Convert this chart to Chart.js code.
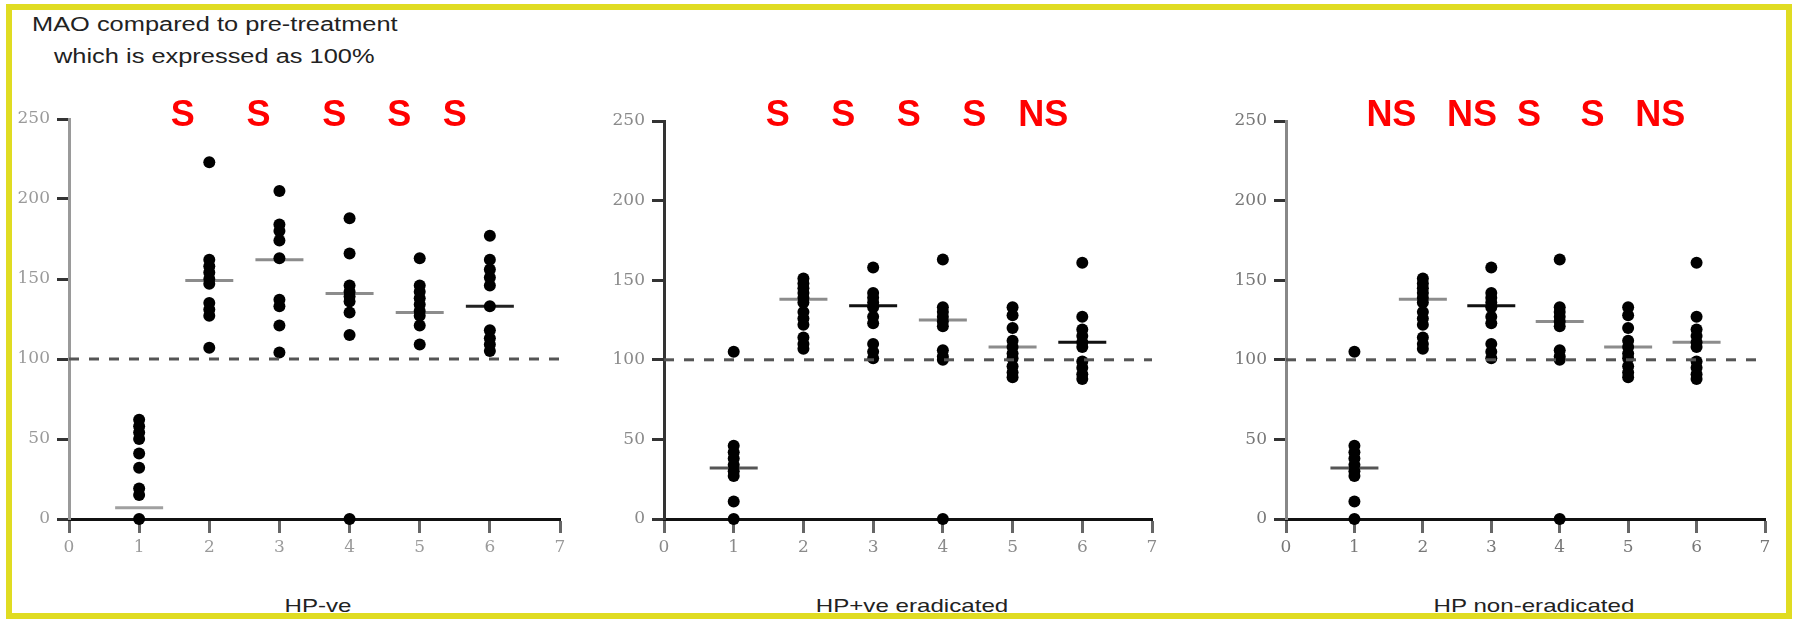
<!DOCTYPE html>
<html>
<head>
<meta charset="utf-8">
<script src="https://cdn.jsdelivr.net/npm/chart.js@4.4.1/dist/chart.umd.min.js"></script>
<style>
  html, body { margin: 0; padding: 0; background: #fff; overflow: hidden; width: 1793px; height: 619px; }
  #frame { position: absolute; left: 6px; top: 4px; width: 1774px; height: 603px; border: 6px solid #e0dc22; }
  .txt { position: absolute; font-family: "Liberation Sans", Arial, sans-serif; color: #222; white-space: nowrap; }
  .head { left: 32px; font-size: 20px; transform: scaleX(1.27); transform-origin: left center; }
  .sub { top: 606px; font-size: 19px; transform: translate(-50%, -50%) scaleX(1.27); }
  canvas { position: absolute; }
</style>
</head>
<body>
<div id="frame"></div>
<div class="txt head" style="top:13px">MAO compared to pre-treatment</div>
<div class="txt head" style="top:45px;left:54px">which is expressed as 100%</div>

<script>
// x = visit number, y = MAO as % of pre-treatment
const visits = [1, 2, 3, 4, 5, 6];
const xTicks = [0, 1, 2, 3, 4, 5, 6, 7];
const yTicks = [0, 50, 100, 150, 200, 250];
const reference = 100;

// HP-ve
const hpNegValues = [
  [62, 58, 54, 50, 41, 32, 19, 15, 0],
  [223, 162, 158, 154, 150, 147, 135, 131, 127, 107],
  [205, 184, 180, 174, 163, 137, 133, 121, 104],
  [188, 166, 146, 142, 139, 136, 129, 115, 0],
  [163, 146, 142, 138, 134, 130, 127, 121, 109],
  [177, 162, 156, 151, 146, 133, 118, 113, 109, 105]
];
const hpNegMedians = [7, 149, 162, 141, 129, 133];
const hpNegSig = ['S', 'S', 'S', 'S', 'S'];

// HP+ve eradicated
const eradValues = [
  [105, 46, 42, 38, 34, 30, 27, 11, 0],
  [151, 148, 145, 142, 139, 136, 130, 126, 122, 114, 110, 107],
  [158, 142, 139, 136, 133, 127, 123, 110, 105, 101],
  [163, 133, 130, 127, 124, 121, 106, 102, 100, 0],
  [133, 128, 120, 112, 108, 104, 101, 96, 92, 89],
  [161, 127, 119, 115, 111, 108, 99, 95, 91, 88]
];
const eradMedians = [32, 138, 134, 125, 108, 111];
const eradSig = ['S', 'S', 'S', 'S', 'NS'];

// HP non-eradicated
const nonEradValues = [
  [105, 46, 42, 38, 34, 30, 27, 11, 0],
  [151, 148, 145, 142, 139, 136, 130, 126, 122, 114, 110, 107],
  [158, 142, 139, 136, 133, 127, 123, 110, 105, 101],
  [163, 133, 130, 127, 124, 121, 106, 102, 100, 0],
  [133, 128, 120, 112, 108, 104, 101, 96, 92, 89],
  [161, 127, 119, 115, 111, 108, 99, 95, 91, 88]
];
const nonEradMedians = [32, 138, 134, 124, 108, 111];
const nonEradSig = ['NS', 'NS', 'S', 'S', 'NS'];

// layout of the three panels (pixels) and where the S / NS marks sit
const panels = [
  { title: 'HP-ve', values: hpNegValues, medians: hpNegMedians, sig: hpNegSig,
    sigAt: [1.62, 2.70, 3.78, 4.71, 5.50],
    left: 9, top: 92, width: 578, height: 477, padRight: 20,
    axisColor: '#9a9a9a', labelColor: '#9a9a9a',
    medianColors: ['#a0a0a0', '#8c8c8c', '#8c8c8c', '#8c8c8c', '#8c8c8c', '#222'] },
  { title: 'HP+ve eradicated', values: eradValues, medians: eradMedians, sig: eradSig,
    sigAt: [1.63, 2.57, 3.51, 4.45, 5.44],
    left: 604, top: 94, width: 575, height: 475, padRight: 20,
    axisColor: '#333', labelColor: '#8a8a8a',
    medianColors: ['#555', '#8c8c8c', '#111', '#8c8c8c', '#8c8c8c', '#111'] },
  { title: 'HP non-eradicated', values: nonEradValues, medians: nonEradMedians, sig: nonEradSig,
    sigAt: [1.54, 2.72, 3.55, 4.48, 5.47],
    left: 1226, top: 94, width: 566, height: 475, padRight: 10,
    axisColor: '#888', labelColor: '#777',
    medianColors: ['#555', '#8c8c8c', '#111', '#8c8c8c', '#8c8c8c', '#8c8c8c'] }
];

const sigPlugin = {
  id: 'sig',
  afterDatasetsDraw(chart, args, opts) {
    const { ctx, scales: { x } } = chart;
    ctx.save();
    ctx.fillStyle = '#ff0000';
    ctx.font = 'bold 36px "Liberation Sans", Arial, sans-serif';
    ctx.textAlign = 'center';
    ctx.textBaseline = 'alphabetic';
    opts.labels.forEach((t, i) => ctx.fillText(t, x.getPixelForValue(opts.at[i]), opts.y + 13));
    ctx.restore();
  }
};

const tickFont = { family: '"DejaVu Serif", serif', size: 17 };

panels.forEach(p => {
  const canvas = document.createElement('canvas');
  canvas.width = p.width;
  canvas.height = p.height;
  canvas.style.left = p.left + 'px';
  canvas.style.top = p.top + 'px';
  canvas.style.width = p.width + 'px';
  canvas.style.height = p.height + 'px';
  document.body.appendChild(canvas);

  const dots = visits.flatMap((v, i) => p.values[i].map(y => ({ x: v, y })));
  const meds = visits.map((v, i) => ({ x: v, y: p.medians[i] }));

  new Chart(canvas, {
    type: 'scatter',
    data: {
      datasets: [
        {
          type: 'line',
          data: [{ x: xTicks[0], y: reference }, { x: xTicks[xTicks.length - 1], y: reference }],
          borderColor: '#555', borderWidth: 3, borderDash: [10, 10], pointRadius: 0
        },
        { data: dots, pointBackgroundColor: '#000', pointBorderWidth: 0, pointRadius: 6, clip: false },
        { data: meds, pointStyle: 'line', pointRadius: 24, pointBorderWidth: 3,
          pointBorderColor: p.medianColors, clip: false }
      ]
    },
    options: {
      responsive: false,
      animation: false,
      events: [],
      layout: { padding: { top: 20, right: p.padRight, bottom: 0, left: 0 } },
      plugins: {
        legend: { display: false },
        tooltip: { enabled: false },
        sig: { labels: p.sig, at: p.sigAt, y: 113 - p.top }
      },
      scales: {
        x: {
          type: 'linear', min: 0, max: 7,
          afterBuildTicks: s => { s.ticks = xTicks.map(v => ({ value: v })); },
          ticks: { color: p.labelColor, font: tickFont, padding: 4 },
          grid: { drawOnChartArea: false, tickLength: 14, tickWidth: 3, tickColor: '#666' },
          border: { color: '#111', width: 3 },
          afterFit: s => { s.height = 50; }
        },
        y: {
          min: 0, max: 250,
          afterBuildTicks: s => { s.ticks = yTicks.map(v => ({ value: v })); },
          ticks: { color: p.labelColor, font: tickFont, padding: 7 },
          grid: { drawOnChartArea: false, tickLength: 12, tickWidth: 3, tickColor: '#333' },
          border: { color: p.axisColor, width: 3 },
          afterFit: s => { s.width = 60; }
        }
      }
    },
    plugins: [sigPlugin]
  });

  const sub = document.createElement('div');
  sub.className = 'txt sub';
  sub.style.left = (p.left + 60 + (p.width - 60 - p.padRight) / 2) + 'px';
  sub.textContent = p.title;
  document.body.appendChild(sub);
});
</script>
</body>
</html>
